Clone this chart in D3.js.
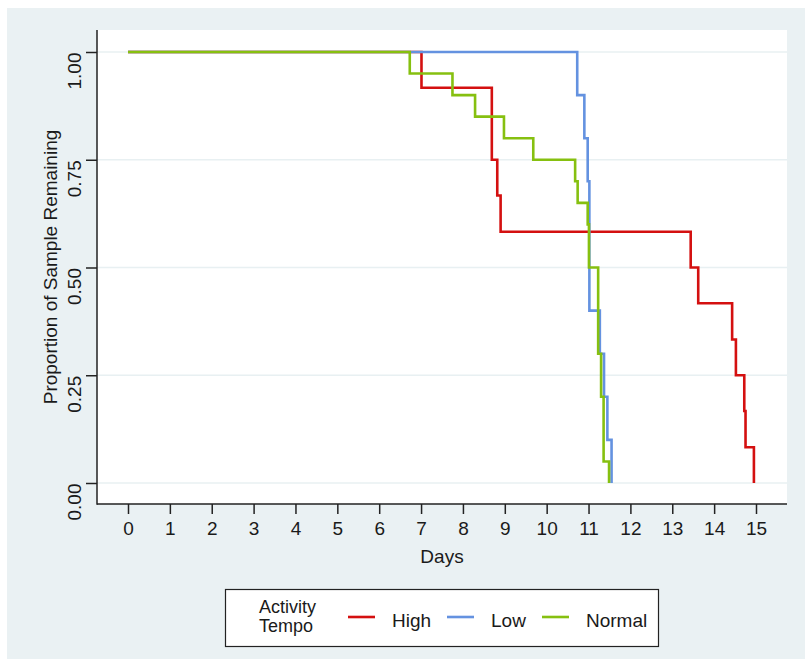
<!DOCTYPE html>
<html>

<head>
  <meta charset="utf-8">
  <title>km-curve</title>
  <style>
    * {
      padding: 0;
      margin: 0;
    }

    body {
      width: 805px;
      height: 659px;
      background: #fff;
      font-family: "Liberation Sans", Arial, sans-serif;
    }

    svg text {
      fill: #1a1a1a;
    }
  </style>
</head>

<body>
  <svg id="svg"></svg>
  <script src="https://cdnjs.cloudflare.com/ajax/libs/d3/7.8.5/d3.min.js"></script>
  <script>
    // survival step data (days, proportion remaining)
    const highDays = [0, 7.01, 8.69, 8.82, 8.90, 13.44, 13.62, 14.43, 14.52, 14.72, 14.75, 14.95]
    const highSurv = [1, 0.917, 0.75, 0.667, 0.583, 0.5, 0.417, 0.333, 0.25, 0.167, 0.083, 0]

    const lowDays = [0, 10.73, 10.90, 10.98, 11.02, 11.27, 11.37, 11.45, 11.55]
    const lowSurv = [1, 0.9, 0.8, 0.7, 0.4, 0.3, 0.2, 0.1, 0]

    const normalDays = [0, 6.73, 7.75, 8.29, 8.98, 9.68, 10.68, 10.74, 10.98, 11.01, 11.23, 11.30, 11.36, 11.49]
    const normalSurv = [1, 0.95, 0.90, 0.85, 0.80, 0.75, 0.70, 0.65, 0.60, 0.50, 0.30, 0.20, 0.05, 0]

    const groups = ['High', 'Low', 'Normal']
    const colors = ['#d41010', '#6492e0', '#86c010']
    const xTicks = d3.range(0, 16)
    const yTicks = [0, 0.25, 0.5, 0.75, 1]

    const dimension = {
      width: 805,
      height: 659,
      plot: { left: 97, top: 30, right: 787, bottom: 504 }
    }
    const p = dimension.plot

    const svg = d3.select('#svg').attr('width', dimension.width).attr('height', dimension.height)

    svg.append('rect').attr('x', 7).attr('y', 8).attr('width', 798).attr('height', 651).attr('fill', '#eaf1f3')
    svg.append('rect').attr('x', p.left).attr('y', p.top).attr('width', p.right - p.left).attr('height', p.bottom - p.top).attr('fill', '#fff')

    const xScale = d3.scaleLinear().domain([0, 15]).range([128, 756])
    const yScale = d3.scaleLinear().domain([0, 1]).range([483, 52])

    // grid
    svg.append('g')
      .selectAll('line')
      .data(yTicks)
      .enter()
      .append('line')
      .attr('x1', p.left)
      .attr('x2', p.right)
      .attr('y1', d => yScale(d))
      .attr('y2', d => yScale(d))
      .attr('stroke', '#e8f0f2')
      .attr('stroke-width', 1.5)

    const xAxis = d3.axisBottom(xScale).tickValues(xTicks).tickSize(10).tickPadding(8).tickSizeOuter(0)
    const yAxis = d3.axisLeft(yScale).tickValues(yTicks).tickSize(11).tickFormat(d3.format('.2f')).tickSizeOuter(0)

    const gx = svg.append('g')
      .attr('id', 'x-axis')
      .attr('transform', `translate(0, ${p.bottom})`)
      .call(xAxis)
    gx.select('.domain').remove()
    gx.selectAll('line').attr('stroke', '#222').attr('stroke-width', 1.5)
    gx.selectAll('text').attr('font-size', 19).attr('font-family', 'Liberation Sans').attr('fill', '#1a1a1a')

    const gy = svg.append('g')
      .attr('id', 'y-axis')
      .attr('transform', `translate(${p.left}, 0)`)
      .call(yAxis)
    gy.select('.domain').remove()
    gy.selectAll('line').attr('stroke', '#222').attr('stroke-width', 1.5)
    gy.selectAll('text')
      .attr('font-size', 19)
      .attr('font-family', 'Liberation Sans')
      .attr('fill', '#1a1a1a')
      .attr('x', null)
      .attr('dy', null)
      .attr('text-anchor', 'end')
      .attr('transform', 'translate(-16, 0) rotate(-90)')

    // axis lines
    svg.append('line').attr('x1', p.left).attr('x2', p.left).attr('y1', p.top).attr('y2', p.bottom + 0.75)
      .attr('stroke', '#222').attr('stroke-width', 1.5)
    svg.append('line').attr('x1', p.left).attr('x2', p.right).attr('y1', p.bottom).attr('y2', p.bottom)
      .attr('stroke', '#222').attr('stroke-width', 1.5)

    // titles
    svg.append('text')
      .attr('x', (p.left + p.right) / 2)
      .attr('y', 563)
      .attr('text-anchor', 'middle')
      .attr('font-size', 19)
      .text('Days')

    svg.append('text')
      .attr('transform', 'translate(57, 267) rotate(-90)')
      .attr('text-anchor', 'middle')
      .attr('font-size', 19)
      .text('Proportion of Sample Remaining')

    // curves
    const series = [
      highDays.map((d, i) => [d, highSurv[i]]),
      lowDays.map((d, i) => [d, lowSurv[i]]),
      normalDays.map((d, i) => [d, normalSurv[i]])
    ]

    const line = d3.line()
      .x(d => xScale(d[0]))
      .y(d => yScale(d[1]))
      .curve(d3.curveStepAfter)

    svg.append('g')
      .selectAll('path')
      .data(series)
      .enter()
      .append('path')
      .attr('d', line)
      .attr('fill', 'none')
      .attr('stroke', (d, i) => colors[i])
      .attr('stroke-width', 2.6)

    // legend
    const legend = svg.append('g').attr('id', 'legend')
    legend.append('rect')
      .attr('x', 225.5).attr('y', 589.5).attr('width', 433).attr('height', 57)
      .attr('fill', '#fff').attr('stroke', '#222').attr('stroke-width', 1.2)

    legend.append('text').attr('x', 259).attr('y', 613).attr('font-size', 18).text('Activity')
    legend.append('text').attr('x', 259).attr('y', 632).attr('font-size', 18).text('Tempo')

    const keyX = [348, 447, 542]
    groups.forEach((g, i) => {
      legend.append('line')
        .attr('x1', keyX[i]).attr('x2', keyX[i] + 27)
        .attr('y1', 617).attr('y2', 617)
        .attr('stroke', colors[i]).attr('stroke-width', 2.6)
      legend.append('text')
        .attr('x', keyX[i] + 44)
        .attr('y', 627)
        .attr('font-size', 19)
        .text(g)
    })
  </script>

</body>

</html>
